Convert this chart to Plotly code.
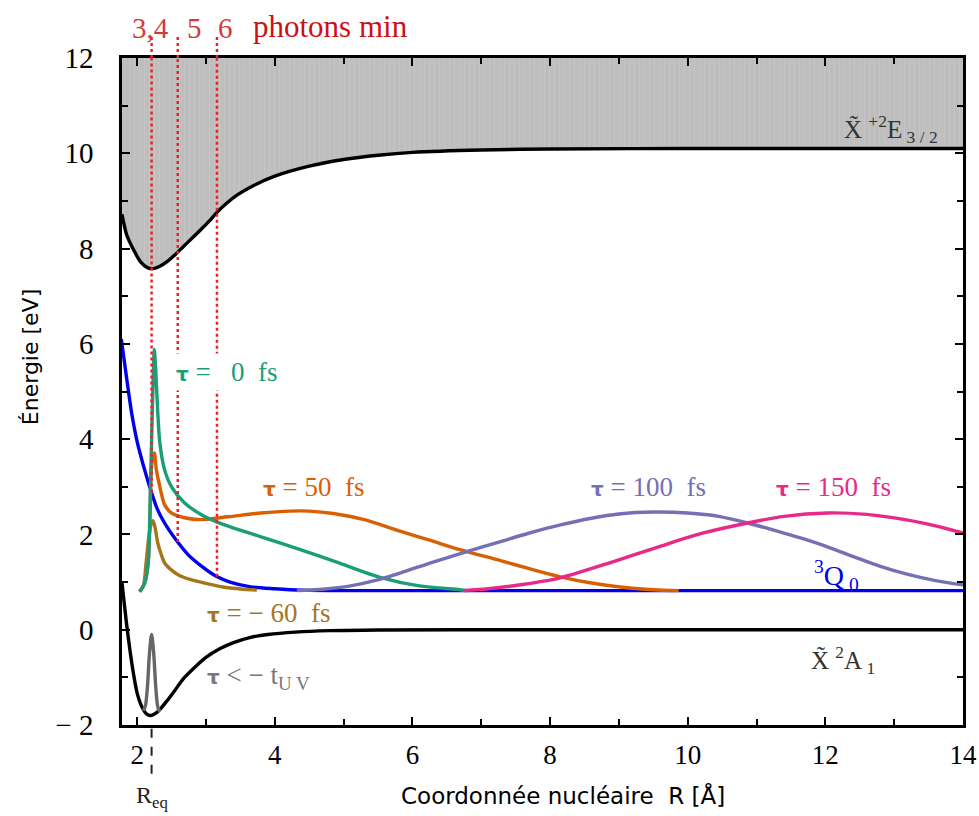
import plotly.graph_objects as go
import numpy as np

# ---------------- data ----------------
# Ground state  X~ 2A1
ground_R = [1.78, 1.84, 1.90, 1.95, 2.00, 2.07, 2.14, 2.20, 2.30, 2.43, 2.55, 2.67,
            2.85, 3.00, 3.20, 3.40, 3.65, 3.90, 4.30, 4.80, 5.50, 7.00, 14.0]
ground_E = [0.98, 0.20, -0.48, -0.95, -1.33, -1.62, -1.77, -1.80, -1.72, -1.50, -1.27, -1.03,
            -0.77, -0.58, -0.40, -0.27, -0.16, -0.10, -0.05, -0.02, -0.005, 0.0, 0.0]

# Cation state  X~+ 2E3/2
cation_R = [1.78, 1.85, 1.95, 2.05, 2.15, 2.24, 2.33, 2.43, 2.55, 2.67, 2.80, 2.92, 3.05,
            3.16, 3.30, 3.45, 3.70, 4.00, 4.50, 5.00, 5.50, 6.00, 7.00, 8.00, 10.0, 14.0]
cation_E = [8.72, 8.28, 7.97, 7.72, 7.60, 7.58, 7.63, 7.72, 7.87, 8.04, 8.22, 8.39, 8.58,
            8.76, 8.95, 9.12, 9.33, 9.52, 9.73, 9.87, 9.96, 10.02, 10.07, 10.09, 10.10, 10.10]
continuum_top = 12.0

# Dissociative state 3Q0
q0_R = [1.77, 1.85, 1.92, 2.00, 2.11, 2.20, 2.30, 2.45, 2.60, 2.75, 2.93, 3.15, 3.35,
        3.65, 4.00, 4.40, 5.00, 14.0]
q0_E = [6.10, 5.25, 4.55, 3.95, 3.35, 2.92, 2.51, 2.12, 1.82, 1.56, 1.34, 1.12, 1.00,
        0.90, 0.86, 0.83, 0.82, 0.82]

# Wave packets
wp_m60_R = [2.03, 2.09, 2.13, 2.17, 2.20, 2.23, 2.26, 2.30, 2.35, 2.40, 2.50, 2.60, 2.78,
            2.98, 3.32, 3.55, 3.74]
wp_m60_E = [0.80, 0.92, 1.40, 1.95, 2.20, 2.29, 2.15, 1.82, 1.58, 1.40, 1.25, 1.15, 1.05,
            0.98, 0.88, 0.85, 0.83]

wp_0_R = [2.04, 2.11, 2.16, 2.19, 2.22, 2.24, 2.25, 2.27, 2.30, 2.33, 2.40, 2.50, 2.69,
          2.94, 3.27, 3.80, 4.37, 4.90, 5.53, 6.10, 6.69, 6.80]
wp_0_E = [0.80, 0.98, 1.40, 2.79, 4.55, 5.60, 5.88, 5.45, 4.55, 3.92, 3.35, 3.00, 2.66,
          2.41, 2.20, 1.95, 1.68, 1.42, 1.10, 0.92, 0.84, 0.82]

wp_50_R = [2.04, 2.11, 2.16, 2.19, 2.21, 2.25, 2.28, 2.33, 2.40, 2.50, 2.69, 2.92, 3.32,
           3.80, 4.22, 4.50, 4.85, 5.30, 5.82, 6.25, 6.69, 7.28, 7.70, 8.15, 8.60, 9.12,
           9.50, 9.87]
wp_50_E = [0.80, 0.98, 1.40, 2.50, 3.45, 3.71, 3.35, 3.00, 2.62, 2.45, 2.35, 2.31, 2.37,
           2.45, 2.49, 2.49, 2.44, 2.31, 2.07, 1.88, 1.68, 1.45, 1.28, 1.11, 0.98, 0.88,
           0.84, 0.82]

wp_100_R = [4.32, 4.70, 5.10, 5.45, 5.82, 6.30, 6.79, 7.28, 7.70, 8.15, 8.60, 9.00, 9.50,
            10.0, 10.45, 10.87, 11.30, 11.65, 12.03, 12.40, 12.80, 13.20, 13.60, 14.0]
wp_100_E = [0.82, 0.85, 0.92, 1.03, 1.19, 1.42, 1.64, 1.85, 2.03, 2.20, 2.34, 2.43, 2.47,
            2.45, 2.38, 2.24, 2.07, 1.92, 1.74, 1.54, 1.33, 1.16, 1.03, 0.94]

wp_150_R = [6.74, 7.10, 7.60, 8.15, 8.90, 9.60, 10.20, 10.87, 11.40, 12.03, 12.60, 13.20,
            13.60, 14.0]
wp_150_E = [0.82, 0.86, 0.95, 1.09, 1.42, 1.75, 2.02, 2.24, 2.38, 2.45, 2.42, 2.30,
            2.18, 2.03]

wp_gs_R = [2.09, 2.12, 2.15, 2.18, 2.21, 2.24, 2.27, 2.30, 2.33]
wp_gs_E = [-1.70, -1.60, -1.19, -0.48, -0.10, -0.48, -1.19, -1.62, -1.72]

# Photon thresholds (3,4 / 5 / 6 photons) and equilibrium distance
photon_R = [2.21, 2.59, 3.16]
photon_labels = ["3,4", "5", "6"]
R_eq = 2.21

x_ticks = [2, 4, 6, 8, 10, 12, 14]
x_minor = [3, 5, 7, 9, 11, 13]
y_ticks = [-2, 0, 2, 4, 6, 8, 10, 12]
y_tick_text = ["\u2212 2", "0", "2", "4", "6", "8", "10", "12"]
y_minor = [-1, 1, 3, 5, 7, 9, 11]

# ---------------- styles ----------------
SERIF = "Liberation Serif"
SANS = "DejaVu Sans"
GREEN, ORANGE, PURPLE, PINK, BROWN, GREY = "#1b9e77", "#d95f02", "#7570b3", "#e7298a", "#a6761d", "#666666"
BLUE = "#0000ee"
RED = "#e8242a"
LW = 3.4
SM = 0.8

fig = go.Figure()

# continuum (gray region above cation curve)
fig.add_trace(go.Scatter(x=[cation_R[0], cation_R[-1]], y=[continuum_top, continuum_top],
                         mode="lines", line=dict(width=0, color="#c0c0c0"), hoverinfo="skip"))
fig.add_trace(go.Scatter(x=cation_R, y=cation_E, mode="lines", fill="tonexty",
                         fillcolor="#c0c0c0",
                         fillpattern=dict(shape="|", bgcolor="#bebebe", fgcolor="#cbcbcb",
                                          size=5, solidity=0.2),
                         line=dict(color="black", width=LW, shape="spline", smoothing=SM)))

fig.add_trace(go.Scatter(x=ground_R, y=ground_E, mode="lines",
                         line=dict(color="black", width=LW, shape="spline", smoothing=SM)))
fig.add_trace(go.Scatter(x=wp_gs_R, y=wp_gs_E, mode="lines",
                         line=dict(color=GREY, width=LW, shape="spline", smoothing=SM)))
fig.add_trace(go.Scatter(x=q0_R, y=q0_E, mode="lines",
                         line=dict(color=BLUE, width=LW, shape="spline", smoothing=SM)))

for R, E, c in [(wp_m60_R, wp_m60_E, BROWN), (wp_50_R, wp_50_E, ORANGE), (wp_0_R, wp_0_E, GREEN),
                (wp_100_R, wp_100_E, PURPLE), (wp_150_R, wp_150_E, PINK)]:
    fig.add_trace(go.Scatter(x=R, y=E, mode="lines",
                             line=dict(color=c, width=LW, shape="spline", smoothing=SM)))

# photon threshold dotted lines
shapes = []
for R in photon_R:
    y_end = float(np.interp(R, q0_R, q0_E))
    shapes.append(dict(type="line", xref="x", yref="y", x0=R, x1=R, y0=y_end, y1=continuum_top,
                       line=dict(color=RED, width=2.5, dash="dot"), layer="above"))
    shapes.append(dict(type="line", xref="x", yref="paper", x0=R, x1=R, y0=1.0, y1=1.036,
                       line=dict(color=RED, width=2.5, dash="dot"), layer="above"))
# R_eq dashed marker below axis
shapes.append(dict(type="line", xref="x", yref="paper", x0=R_eq, x1=R_eq, y0=-0.073, y1=0,
                   line=dict(color="#222222", width=2, dash="dash")))

annotations = []
top_label_x = [2.20, 2.84, 3.28]
for lbl, x in zip(photon_labels, top_label_x):
    annotations.append(dict(x=x, y=1.045, xref="x", yref="paper", text=lbl, showarrow=False,
                            font=dict(family=SERIF, size=29, color="#d23b3b"),
                            xanchor="center", yanchor="middle"))
annotations.append(dict(x=3.65, y=1.047, xref="x", yref="paper", text="photons min",
                        showarrow=False, font=dict(family=SERIF, size=31, color="#cc1111"),
                        xanchor="left", yanchor="middle"))


def tau(rest):
    return ('<span style="font-family:DejaVu Sans;font-weight:bold;font-size:20px">\u03c4</span>'
            + rest)


label_specs = [
    (tau(" =   0  fs"), 2.50, 5.41, GREEN, "white"),
    (tau(" = 50  fs"), 3.80, 3.00, ORANGE, None),
    (tau(" = 100  fs"), 8.57, 3.00, PURPLE, None),
    (tau(" = 150  fs"), 11.26, 3.00, PINK, None),
    (tau(" = \u2212 60  fs"), 2.98, 0.36, BROWN, None),
    (tau(" < \u2212 t<sub>U V</sub>"), 2.98, -0.99, "#777777", None),
]
for text, x, y, c, bg in label_specs:
    a = dict(x=x, y=y, xref="x", yref="y", text=text, showarrow=False,
             font=dict(family=SERIF, size=27, color=c), xanchor="left", yanchor="middle")
    if bg:
        a.update(bgcolor=bg, borderpad=3)
    annotations.append(a)

annotations += [
    dict(x=11.80, y=1.13, xref="x", yref="y", text="<sup>3</sup>Q<sub> 0</sub>", showarrow=False,
         font=dict(family=SERIF, size=28, color=BLUE), xanchor="left", yanchor="middle"),
    dict(x=11.76, y=-0.63, xref="x", yref="y", text="X\u0303 <sup>2</sup>A<sub> 1</sub>", showarrow=False,
         font=dict(family=SERIF, size=25, color="#333333"), xanchor="left", yanchor="middle"),
    dict(x=12.24, y=10.52, xref="x", yref="y", text="X\u0303 <sup>+2</sup>E<sub> 3 / 2</sub>",
         showarrow=False, font=dict(family=SERIF, size=25, color="#333333"),
         xanchor="left", yanchor="middle"),
    dict(x=R_eq, y=-0.108, xref="x", yref="paper", text="R<sub>eq</sub>", showarrow=False,
         font=dict(family=SERIF, size=24, color="#222222"), xanchor="center", yanchor="middle"),
    dict(x=-0.109, y=0.552, xref="paper", yref="paper", text="\u00c9nergie [eV]", showarrow=False,
         textangle=-90, font=dict(family=SANS, size=22, color="black"),
         xanchor="center", yanchor="middle"),
    dict(x=0.524, y=-0.105, xref="paper", yref="paper", text="Coordonn\u00e9e nucl\u00e9aire  R [\u00c5]",
         showarrow=False, font=dict(family=SANS, size=23, color="black"),
         xanchor="center", yanchor="middle"),
]

axis_common = dict(showline=True, linecolor="black", linewidth=2.5, mirror="ticks",
                   ticks="inside", ticklen=8, tickwidth=2, tickcolor="black",
                   showgrid=False, zeroline=False, automargin=False)

fig.update_xaxes(range=[1.78, 14], tickmode="array", tickvals=x_ticks,
                 tickfont=dict(family=SERIF, size=27, color="black"), ticklabelstandoff=4,
                 minor=dict(tickmode="array", tickvals=x_minor, ticks="inside", ticklen=6,
                            tickwidth=2, tickcolor="black"),
                 **axis_common)
fig.update_yaxes(range=[-2, 12], tickmode="array", tickvals=y_ticks, ticktext=y_tick_text,
                 tickfont=dict(family=SERIF, size=29, color="black"), ticklabelstandoff=20,
                 minor=dict(tickmode="array", tickvals=y_minor, ticks="inside", ticklen=6,
                            tickwidth=2, tickcolor="black"),
                 **axis_common)

fig.update_layout(width=979, height=816, margin=dict(l=122, r=16, t=58, b=91),
                  showlegend=False, plot_bgcolor="white", paper_bgcolor="white",
                  shapes=shapes, annotations=annotations)

fig.write_html("out.html", config={"displayModeBar": False},
               post_script="document.body.style.margin='0px';")
